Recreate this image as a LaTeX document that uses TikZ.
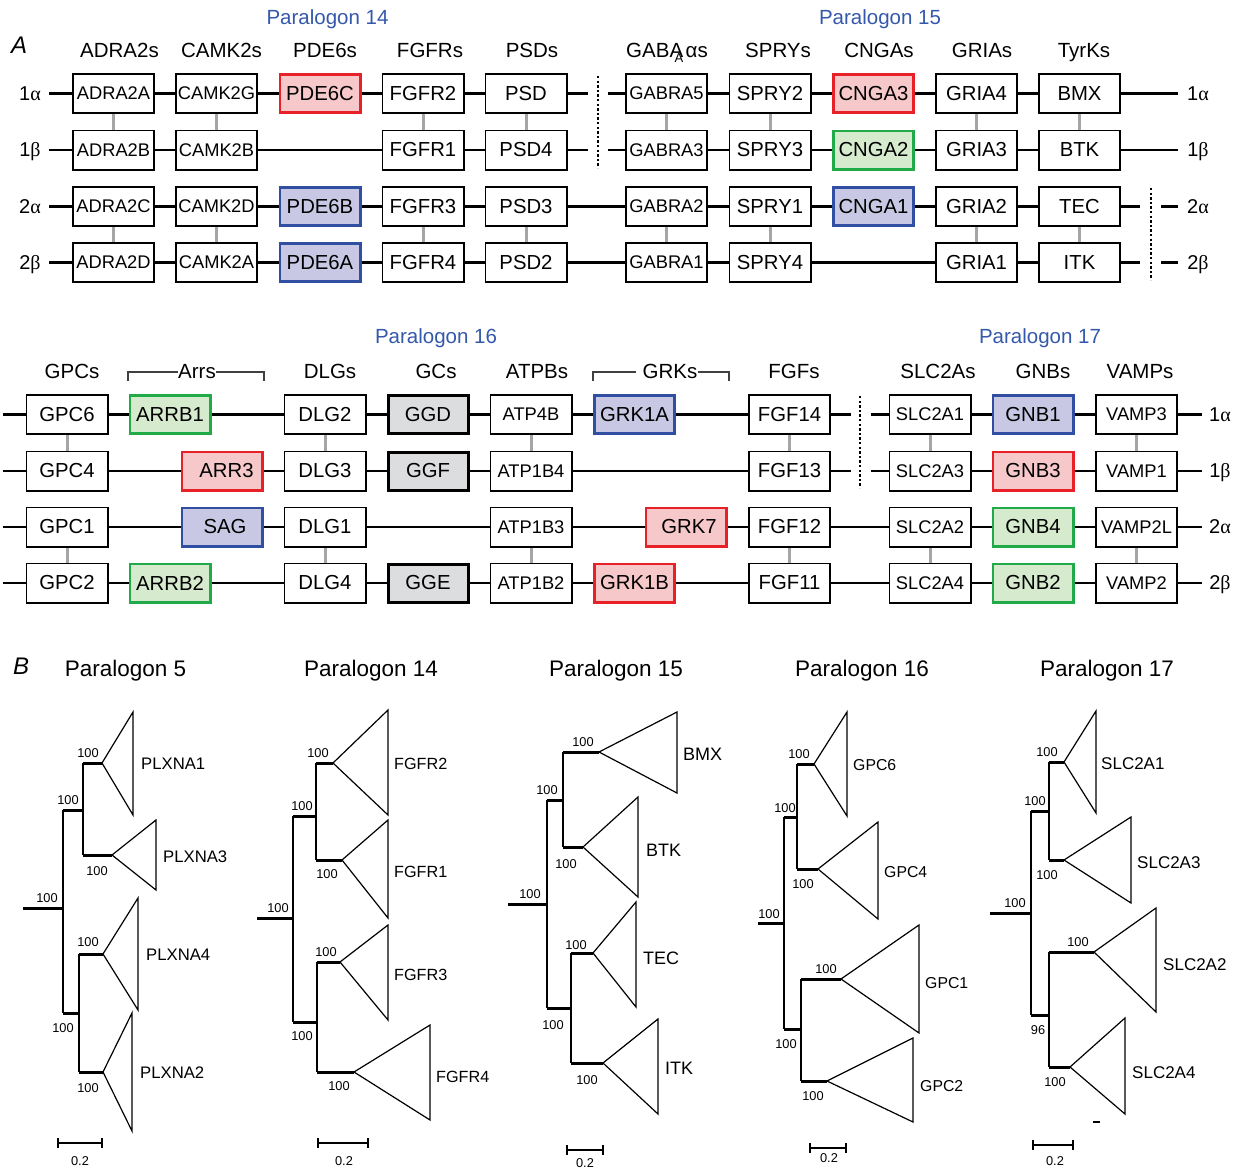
\documentclass[tikz,border=0pt]{standalone}
\usepackage{fontspec}
\setmainfont{Liberation Sans}
\newfontfamily\greekf{Liberation Serif}

\definecolor{cRed}{RGB}{232,32,40}
\definecolor{cRedF}{RGB}{246,200,202}
\definecolor{cBlue}{RGB}{48,78,162}
\definecolor{cBlueF}{RGB}{200,200,228}
\definecolor{cGreen}{RGB}{32,170,72}
\definecolor{cGreenF}{RGB}{214,234,206}
\definecolor{cGrayF}{RGB}{220,221,223}
\definecolor{cPair}{RGB}{165,165,168}
\definecolor{cTitle}{RGB}{52,88,170}

\newcommand\fsz[1]{\fontsize{#1}{#1}\selectfont}
% collapsed clade: apex x, apex y, base x, base top y, base bottom y
\newcommand\cladetri[5]{\draw[clade] (#1,#2) -- (#3,#4) -- (#3,#5) -- cycle;}

\begin{document}
\begin{tikzpicture}[x=1pt,y=-1pt,
  gene/.style={draw, line width=1.6pt, fill=white, minimum width=81.4pt,
    minimum height=39.4pt, inner sep=0pt, font=\fsz{20.3}},
  gnar/.style={gene, font=\fsz{18.3}},
  hlred/.style={gene, draw=cRed, fill=cRedF, line width=2.8pt,
    minimum width=80.2pt, minimum height=38.2pt},
  hlblue/.style={gene, draw=cBlue, fill=cBlueF, line width=2.8pt,
    minimum width=80.2pt, minimum height=38.2pt},
  hlgreen/.style={gene, draw=cGreen, fill=cGreenF, line width=2.8pt,
    minimum width=80.2pt, minimum height=38.2pt},
  gcbox/.style={gene, fill=cGrayF, line width=3pt,
    minimum width=80pt, minimum height=38pt},
  link/.style={line width=2.4pt},
  pair/.style={draw=cPair, line width=3pt},
  dots/.style={line width=2.6pt, dash pattern=on 2.3pt off 2.3pt},
  head/.style={font=\fsz{20.5}, anchor=base, inner sep=0pt},
  ptitle/.style={head, text=cTitle},
  rowlab/.style={font=\fsz{20}, anchor=base, inner sep=0pt},
  brk/.style={line width=1.1pt, draw=black!75},
  br/.style={line width=3pt},
  stem/.style={line width=1.2pt},
  clade/.style={line width=1.2pt, line join=miter},
  boot/.style={font=\fsz{12.8}, inner sep=0pt},
  taxon/.style={font=\fsz{#1}, anchor=west, inner sep=0pt},
  taxon/.default=16.7,
  btitle/.style={font=\fsz{22.5}, anchor=base, inner sep=0pt},
  plabel/.style={font=\fsz{24}\itshape, anchor=base west, inner sep=0pt},
  sbar/.style={line width=1.1pt}
]
\useasboundingbox (0,0) rectangle (1240,1170);

%% ---------------- Panel A, upper block (paralogons 14 and 15) ----------------
\node[plabel] (labA) at (11,53) {A};
\node[ptitle] (p14) at (327.5,24) {Paralogon 14};
\node[ptitle] (p15) at (880,24) {Paralogon 15};

\node[head] (hADRA) at (119.5,57) {ADRA2s};
\node[head] (hCAMK) at (221.5,57) {CAMK2s};
\node[head] (hPDE)  at (325,57) {PDE6s};
\node[head] (hFGFR) at (430,57) {FGFRs};
\node[head] (hPSD)  at (532,57) {PSDs};
\node[head] (hGABA) at (667,57) {GABA\kern-0.42em\raisebox{-0.28em}{\fsz{13}A}\kern0.12em αs};
\node[head] (hSPRY) at (778,57) {SPRYs};
\node[head] (hCNGA) at (879,57) {CNGAs};
\node[head] (hGRIA) at (982,57) {GRIAs};
\node[head] (hTyrK) at (1084,57) {TyrKs};

% row labels
\node[rowlab] (la1) at (30,100) {1{\greekf α}};
\node[rowlab] (lb1) at (30,156.5) {1{\greekf β}};
\node[rowlab] (la2) at (30,213) {2{\greekf α}};
\node[rowlab] (lb2) at (30,269) {2{\greekf β}};
\node[rowlab] (ra1) at (1198,100) {1{\greekf α}};
\node[rowlab] (rb1) at (1198,156.5) {1{\greekf β}};
\node[rowlab] (ra2) at (1198,213) {2{\greekf α}};
\node[rowlab] (rb2) at (1198,269) {2{\greekf β}};

% genes, row 1 alpha
\node[gnar]   (ADRA2A) at (113.5,93.5) {ADRA2A};
\node[gnar]   (CAMK2G) at (216.5,93.5) {CAMK2G};
\node[hlred]  (PDE6C)  at (320,93.5) {PDE6C};
\node[gene]   (FGFR2)  at (423,93.5) {FGFR2};
\node[gene]   (PSD)    at (526,93.5) {PSD};
\node[gnar]   (GABRA5) at (666.5,93.5) {GABRA5};
\node[gene]   (SPRY2)  at (770,93.5) {SPRY2};
\node[hlred]  (CNGA3)  at (873.5,93.5) {CNGA3};
\node[gene]   (GRIA4)  at (976.5,93.5) {GRIA4};
\node[gene]   (BMX)    at (1079.5,93.5) {BMX};
% row 1 beta
\node[gnar]   (ADRA2B) at (113.5,150) {ADRA2B};
\node[gnar]   (CAMK2B) at (216.5,150) {CAMK2B};
\node[gene]   (FGFR1)  at (423,150) {FGFR1};
\node[gene]   (PSD4)   at (526,150) {PSD4};
\node[gnar]   (GABRA3) at (666.5,150) {GABRA3};
\node[gene]   (SPRY3)  at (770,150) {SPRY3};
\node[hlgreen](CNGA2)  at (873.5,150) {CNGA2};
\node[gene]   (GRIA3)  at (976.5,150) {GRIA3};
\node[gene]   (BTK)    at (1079.5,150) {BTK};
% row 2 alpha
\node[gnar]   (ADRA2C) at (113.5,206.5) {ADRA2C};
\node[gnar]   (CAMK2D) at (216.5,206.5) {CAMK2D};
\node[hlblue] (PDE6B)  at (320,206.5) {PDE6B};
\node[gene]   (FGFR3)  at (423,206.5) {FGFR3};
\node[gene]   (PSD3)   at (526,206.5) {PSD3};
\node[gnar]   (GABRA2) at (666.5,206.5) {GABRA2};
\node[gene]   (SPRY1)  at (770,206.5) {SPRY1};
\node[hlblue] (CNGA1)  at (873.5,206.5) {CNGA1};
\node[gene]   (GRIA2)  at (976.5,206.5) {GRIA2};
\node[gene]   (TEC)    at (1079.5,206.5) {TEC};
% row 2 beta
\node[gnar]   (ADRA2D) at (113.5,262.5) {ADRA2D};
\node[gnar]   (CAMK2A) at (216.5,262.5) {CAMK2A};
\node[hlblue] (PDE6A)  at (320,262.5) {PDE6A};
\node[gene]   (FGFR4)  at (423,262.5) {FGFR4};
\node[gene]   (PSD2)   at (526,262.5) {PSD2};
\node[gnar]   (GABRA1) at (666.5,262.5) {GABRA1};
\node[gene]   (SPRY4)  at (770,262.5) {SPRY4};
\node[gene]   (GRIA1)  at (976.5,262.5) {GRIA1};
\node[gene]   (ITK)    at (1079.5,262.5) {ITK};

% free ends of the chromosome lines
\coordinate (t1L) at (49,93.5);   \coordinate (t1R) at (1178,93.5);
\coordinate (t2L) at (49,150);    \coordinate (t2R) at (1178,150);
\coordinate (t3L) at (49,206.5);  \coordinate (t3R) at (1178,206.5);
\coordinate (t4L) at (49,262.5);  \coordinate (t4R) at (1178,262.5);
\coordinate (t1a) at (588,93.5);  \coordinate (t1b) at (608,93.5);
\coordinate (t2a) at (588,150);   \coordinate (t2b) at (608,150);
\coordinate (t3a) at (1140,206.5);\coordinate (t3b) at (1161,206.5);
\coordinate (t4a) at (1140,262.5);\coordinate (t4b) at (1161,262.5);
\coordinate (dA1) at (598,76);    \coordinate (dA2) at (598,168);
\coordinate (dB1) at (1151,188);  \coordinate (dB2) at (1151,280);

\draw[link] (t1L) -- (ADRA2A); \draw[link] (ADRA2A) -- (CAMK2G);
\draw[link] (CAMK2G) -- (PDE6C); \draw[link] (PDE6C) -- (FGFR2);
\draw[link] (FGFR2) -- (PSD); \draw[link] (PSD) -- (t1a);
\draw[link] (t1b) -- (GABRA5); \draw[link] (GABRA5) -- (SPRY2);
\draw[link] (SPRY2) -- (CNGA3); \draw[link] (CNGA3) -- (GRIA4);
\draw[link] (GRIA4) -- (BMX); \draw[link] (BMX) -- (t1R);

\draw[link] (t2L) -- (ADRA2B); \draw[link] (ADRA2B) -- (CAMK2B);
\draw[link] (CAMK2B) -- (FGFR1); \draw[link] (FGFR1) -- (PSD4);
\draw[link] (PSD4) -- (t2a); \draw[link] (t2b) -- (GABRA3);
\draw[link] (GABRA3) -- (SPRY3); \draw[link] (SPRY3) -- (CNGA2);
\draw[link] (CNGA2) -- (GRIA3); \draw[link] (GRIA3) -- (BTK);
\draw[link] (BTK) -- (t2R);

\draw[link] (t3L) -- (ADRA2C); \draw[link] (ADRA2C) -- (CAMK2D);
\draw[link] (CAMK2D) -- (PDE6B); \draw[link] (PDE6B) -- (FGFR3);
\draw[link] (FGFR3) -- (PSD3); \draw[link] (PSD3) -- (GABRA2);
\draw[link] (GABRA2) -- (SPRY1); \draw[link] (SPRY1) -- (CNGA1);
\draw[link] (CNGA1) -- (GRIA2); \draw[link] (GRIA2) -- (TEC);
\draw[link] (TEC) -- (t3a); \draw[link] (t3b) -- (t3R);

\draw[link] (t4L) -- (ADRA2D); \draw[link] (ADRA2D) -- (CAMK2A);
\draw[link] (CAMK2A) -- (PDE6A); \draw[link] (PDE6A) -- (FGFR4);
\draw[link] (FGFR4) -- (PSD2); \draw[link] (PSD2) -- (GABRA1);
\draw[link] (GABRA1) -- (SPRY4); \draw[link] (SPRY4) -- (GRIA1);
\draw[link] (GRIA1) -- (ITK); \draw[link] (ITK) -- (t4a);
\draw[link] (t4b) -- (t4R);

% paralog pairs
\foreach \a/\b in {ADRA2A/ADRA2B, ADRA2C/ADRA2D, CAMK2G/CAMK2B, CAMK2D/CAMK2A,
  FGFR2/FGFR1, FGFR3/FGFR4, PSD/PSD4, PSD3/PSD2, GABRA5/GABRA3, GABRA2/GABRA1,
  SPRY2/SPRY3, SPRY1/SPRY4, GRIA4/GRIA3, GRIA2/GRIA1, BMX/BTK, TEC/ITK}
  \draw[pair] (\a) -- (\b);

\draw[dots] (dA1) -- (dA2);
\draw[dots] (dB1) -- (dB2);

%% ---------------- Panel A, lower block (paralogons 16 and 17) ----------------
\node[ptitle] (p16) at (436,343) {Paralogon 16};
\node[ptitle] (p17) at (1040,343) {Paralogon 17};

\node[head] (hGPC)  at (72,378) {GPCs};
\node[head] (hArr)  at (197,378) {Arrs};
\node[head] (hDLG)  at (330,378) {DLGs};
\node[head] (hGC)   at (436,378) {GCs};
\node[head] (hATPB) at (537,378) {ATPBs};
\node[head] (hGRK)  at (670,378) {GRKs};
\node[head] (hFGF)  at (794,378) {FGFs};
\node[head] (hSLC)  at (938,378) {SLC2As};
\node[head] (hGNB)  at (1043,378) {GNBs};
\node[head] (hVAMP) at (1140,378) {VAMPs};

\coordinate (arrL) at (128,381); \coordinate (arrR) at (264,381);
\coordinate (grkL) at (593,381); \coordinate (grkR) at (729,381);
\draw[brk] (arrL) -- (128,372) -- (hArr.west |- 0,372);
\draw[brk] (hArr.east |- 0,372) -- (264,372) -- (arrR);
\draw[brk] (grkL) -- (593,372) -- ([xshift=-6pt]hGRK.west |- 0,372);
\draw[brk] (hGRK.east |- 0,372) -- (729,372) -- (grkR);

\node[rowlab] (ra3) at (1220,421) {1{\greekf α}};
\node[rowlab] (rb3) at (1220,477.5) {1{\greekf β}};
\node[rowlab] (ra4) at (1220,533.5) {2{\greekf α}};
\node[rowlab] (rb4) at (1220,589.5) {2{\greekf β}};

% row 1 alpha
\node[gene]   (GPC6)   at (67,414.5) {GPC6};
\node[hlgreen](ARRB1)  at (170,414.5) {ARRB1};
\node[gene]   (DLG2)   at (325,414.5) {DLG2};
\node[gcbox]  (GGD)    at (428,414.5) {GGD};
\node[gnar]   (ATP4B)  at (531,414.5) {ATP4B};
\node[hlblue] (GRK1A)  at (634.5,414.5) {GRK1A};
\node[gene]   (FGF14)  at (789.5,414.5) {FGF14};
\node[gnar]   (SLC2A1) at (930,414.5) {SLC2A1};
\node[hlblue] (GNB1)   at (1033,414.5) {GNB1};
\node[gnar]   (VAMP3)  at (1136.5,414.5) {VAMP3};
% row 1 beta
\node[gene]   (GPC4)   at (67,471) {GPC4};
\node[hlred]  (ARR3)   at (222,471) {\hspace{9pt}ARR3};
\node[gene]   (DLG3)   at (325,471) {DLG3};
\node[gcbox]  (GGF)    at (428,471) {GGF};
\node[gnar]   (ATP1B4) at (531,471) {ATP1B4};
\node[gene]   (FGF13)  at (789.5,471) {FGF13};
\node[gnar]   (SLC2A3) at (930,471) {SLC2A3};
\node[hlred]  (GNB3)   at (1033,471) {GNB3};
\node[gnar]   (VAMP1)  at (1136.5,471) {VAMP1};
% row 2 alpha
\node[gene]   (GPC1)   at (67,527) {GPC1};
\node[hlblue] (SAG)    at (222,527) {\hspace{6pt}SAG};
\node[gene]   (DLG1)   at (325,527) {DLG1};
\node[gnar]   (ATP1B3) at (531,527) {ATP1B3};
\node[hlred]  (GRK7)   at (686,527) {\hspace{6pt}GRK7};
\node[gene]   (FGF12)  at (789.5,527) {FGF12};
\node[gnar]   (SLC2A2) at (930,527) {SLC2A2};
\node[hlgreen](GNB4)   at (1033,527) {GNB4};
\node[gnar]   (VAMP2L) at (1136.5,527) {VAMP2L};
% row 2 beta
\node[gene]   (GPC2)   at (67,583) {GPC2};
\node[hlgreen](ARRB2)  at (170,583) {ARRB2};
\node[gene]   (DLG4)   at (325,583) {DLG4};
\node[gcbox]  (GGE)    at (428,583) {GGE};
\node[gnar]   (ATP1B2) at (531,583) {ATP1B2};
\node[hlred]  (GRK1B)  at (634.5,583) {GRK1B};
\node[gene]   (FGF11)  at (789.5,583) {FGF11};
\node[gnar]   (SLC2A4) at (930,583) {SLC2A4};
\node[hlgreen](GNB2)   at (1033,583) {GNB2};
\node[gnar]   (VAMP2)  at (1136.5,583) {VAMP2};

\coordinate (b1L) at (3,414.5); \coordinate (b1R) at (1202,414.5);
\coordinate (b2L) at (3,471);   \coordinate (b2R) at (1202,471);
\coordinate (b3L) at (3,527);   \coordinate (b3R) at (1202,527);
\coordinate (b4L) at (3,583);   \coordinate (b4R) at (1202,583);
\coordinate (b1a) at (851,414.5); \coordinate (b1b) at (871,414.5);
\coordinate (b2a) at (851,471);   \coordinate (b2b) at (871,471);
\coordinate (dC1) at (860,396);   \coordinate (dC2) at (860,488);

\draw[link] (b1L) -- (GPC6); \draw[link] (GPC6) -- (ARRB1);
\draw[link] (ARRB1) -- (DLG2); \draw[link] (DLG2) -- (GGD);
\draw[link] (GGD) -- (ATP4B); \draw[link] (ATP4B) -- (GRK1A);
\draw[link] (GRK1A) -- (FGF14); \draw[link] (FGF14) -- (b1a);
\draw[link] (b1b) -- (SLC2A1); \draw[link] (SLC2A1) -- (GNB1);
\draw[link] (GNB1) -- (VAMP3); \draw[link] (VAMP3) -- (b1R);

\draw[link] (b2L) -- (GPC4); \draw[link] (GPC4) -- (ARR3);
\draw[link] (ARR3) -- (DLG3); \draw[link] (DLG3) -- (GGF);
\draw[link] (GGF) -- (ATP1B4); \draw[link] (ATP1B4) -- (FGF13);
\draw[link] (FGF13) -- (b2a); \draw[link] (b2b) -- (SLC2A3);
\draw[link] (SLC2A3) -- (GNB3); \draw[link] (GNB3) -- (VAMP1);
\draw[link] (VAMP1) -- (b2R);

\draw[link] (b3L) -- (GPC1); \draw[link] (GPC1) -- (SAG);
\draw[link] (SAG) -- (DLG1); \draw[link] (DLG1) -- (ATP1B3);
\draw[link] (ATP1B3) -- (GRK7); \draw[link] (GRK7) -- (FGF12);
\draw[link] (FGF12) -- (SLC2A2); \draw[link] (SLC2A2) -- (GNB4);
\draw[link] (GNB4) -- (VAMP2L); \draw[link] (VAMP2L) -- (b3R);

\draw[link] (b4L) -- (GPC2); \draw[link] (GPC2) -- (ARRB2);
\draw[link] (ARRB2) -- (DLG4); \draw[link] (DLG4) -- (GGE);
\draw[link] (GGE) -- (ATP1B2); \draw[link] (ATP1B2) -- (GRK1B);
\draw[link] (GRK1B) -- (FGF11); \draw[link] (FGF11) -- (SLC2A4);
\draw[link] (SLC2A4) -- (GNB2); \draw[link] (GNB2) -- (VAMP2);
\draw[link] (VAMP2) -- (b4R);

\foreach \a/\b in {GPC6/GPC4, GPC1/GPC2, DLG2/DLG3, DLG1/DLG4,
  ATP4B/ATP1B4, ATP1B3/ATP1B2, FGF14/FGF13, FGF12/FGF11,
  SLC2A1/SLC2A3, SLC2A2/SLC2A4, VAMP3/VAMP1, VAMP2L/VAMP2}
  \draw[pair] (\a) -- (\b);

\draw[dots] (dC1) -- (dC2);

%% ---------------- Panel B: collapsed phylogenies ----------------
\node[plabel] (labB) at (13,674) {B};
\node[btitle] (bt5)  at (125.5,676) {Paralogon 5};
\node[btitle] (bt14) at (371,676) {Paralogon 14};
\node[btitle] (bt15) at (616,676) {Paralogon 15};
\node[btitle] (bt16) at (862,676) {Paralogon 16};
\node[btitle] (bt17) at (1107,676) {Paralogon 17};

% tree: paralogon 5
\draw[stem] (63,810) -- (63,1013);
\draw[stem] (83,763) -- (83,855);
\draw[stem] (79,954) -- (79,1072);
\draw[br] (23,908) -- (63,908);
\draw[br] (63,810) -- (83,810);
\draw[br] (83,763) -- (102,763);
\draw[br] (83,855) -- (112,855);
\draw[br] (63,1013) -- (79,1013);
\draw[br] (79,954) -- (103,954);
\draw[br] (79,1072) -- (103,1072);
\cladetri{102}{763}{133}{712}{815}
\cladetri{112}{855}{156}{820}{890}
\cladetri{103}{954}{138}{898}{1010}
\cladetri{103}{1072}{132}{1013}{1131}
\node[boot] (s5a) at (47,898) {100};
\node[boot] (s5b) at (68,800) {100};
\node[boot] (s5c) at (88,753) {100};
\node[boot] (s5d) at (97,871) {100};
\node[boot] (s5e) at (63,1028) {100};
\node[boot] (s5f) at (88,942) {100};
\node[boot] (s5g) at (88,1088) {100};
\node[taxon] (x5a) at (141,764) {PLXNA1};
\node[taxon] (x5b) at (163,857) {PLXNA3};
\node[taxon] (x5c) at (146,955) {PLXNA4};
\node[taxon] (x5d) at (140,1073) {PLXNA2};
\draw[sbar] (58,1138) -- (58,1148) (58,1143) -- (102,1143) (102,1138) -- (102,1148);
\node[boot] (k5) at (80,1161) {0.2};

% tree: paralogon 14
\draw[stem] (293,816) -- (293,1022);
\draw[stem] (316,763) -- (316,860);
\draw[stem] (317,962) -- (317,1072);
\draw[br] (257,918) -- (293,918);
\draw[br] (293,816) -- (316,816);
\draw[br] (316,763) -- (333,763);
\draw[br] (316,860) -- (342,860);
\draw[br] (293,1022) -- (317,1022);
\draw[br] (317,962) -- (340,962);
\draw[br] (317,1072) -- (354,1072);
\cladetri{333}{763}{388}{710}{815}
\cladetri{342}{860}{388}{820}{918}
\cladetri{340}{962}{388}{925}{1020}
\cladetri{354}{1072}{430}{1025}{1120}
\node[boot] (s14a) at (278,908) {100};
\node[boot] (s14b) at (302,806) {100};
\node[boot] (s14c) at (318,753) {100};
\node[boot] (s14d) at (327,874) {100};
\node[boot] (s14e) at (302,1036) {100};
\node[boot] (s14f) at (326,952) {100};
\node[boot] (s14g) at (339,1086) {100};
\node[taxon=16.2] (x14a) at (394,764) {FGFR2};
\node[taxon=16.2] (x14b) at (394,872) {FGFR1};
\node[taxon=16.2] (x14c) at (394,975) {FGFR3};
\node[taxon=16.2] (x14d) at (436,1077) {FGFR4};
\draw[sbar] (318,1138) -- (318,1148) (318,1143) -- (368,1143) (368,1138) -- (368,1148);
\node[boot] (k14) at (344,1161) {0.2};

% tree: paralogon 15
\draw[stem] (547,800) -- (547,1008);
\draw[stem] (563,752) -- (563,847);
\draw[stem] (571,953) -- (571,1063);
\draw[br] (508,904) -- (547,904);
\draw[br] (547,800) -- (563,800);
\draw[br] (563,752) -- (599,752);
\draw[br] (563,847) -- (583,847);
\draw[br] (547,1008) -- (571,1008);
\draw[br] (571,953) -- (593,953);
\draw[br] (571,1063) -- (603,1063);
\cladetri{599}{752}{677}{712}{793}
\cladetri{583}{847}{638}{797}{897}
\cladetri{593}{953}{636}{902}{1007}
\cladetri{603}{1063}{658}{1019}{1114}
\node[boot] (s15a) at (530,894) {100};
\node[boot] (s15b) at (547,790) {100};
\node[boot] (s15c) at (583,742) {100};
\node[boot] (s15d) at (566,864) {100};
\node[boot] (s15e) at (553,1025) {100};
\node[boot] (s15f) at (576,945) {100};
\node[boot] (s15g) at (587,1080) {100};
\node[taxon=18] (x15a) at (683,754) {BMX};
\node[taxon=18] (x15b) at (646,850) {BTK};
\node[taxon=18] (x15c) at (643,958) {TEC};
\node[taxon=18] (x15d) at (665,1068) {ITK};
\draw[sbar] (567,1145) -- (567,1155) (567,1150) -- (603,1150) (603,1145) -- (603,1155);
\node[boot] (k15) at (585,1163) {0.2};

% tree: paralogon 16
\draw[stem] (784,817) -- (784,1029);
\draw[stem] (797,764) -- (797,869);
\draw[stem] (801,979) -- (801,1081);
\draw[br] (758,923) -- (784,923);
\draw[br] (784,817) -- (797,817);
\draw[br] (797,764) -- (814,764);
\draw[br] (797,869) -- (818,869);
\draw[br] (784,1029) -- (801,1029);
\draw[br] (801,979) -- (841,979);
\draw[br] (801,1081) -- (827,1081);
\cladetri{814}{764}{847}{712}{816}
\cladetri{818}{869}{878}{822}{919}
\cladetri{841}{979}{919}{925}{1033}
\cladetri{827}{1081}{913}{1038}{1122}
\node[boot] (s16a) at (769,914) {100};
\node[boot] (s16b) at (785,808) {100};
\node[boot] (s16c) at (799,754) {100};
\node[boot] (s16d) at (803,884) {100};
\node[boot] (s16e) at (786,1044) {100};
\node[boot] (s16f) at (826,969) {100};
\node[boot] (s16g) at (813,1096) {100};
\node[taxon=15.8] (x16a) at (853,765) {GPC6};
\node[taxon=15.8] (x16b) at (884,872) {GPC4};
\node[taxon=15.8] (x16c) at (925,983) {GPC1};
\node[taxon=15.8] (x16d) at (920,1086) {GPC2};
\draw[sbar] (810,1143) -- (810,1153) (810,1148) -- (846,1148) (846,1143) -- (846,1153);
\node[boot] (k16) at (829,1158) {0.2};

% tree: paralogon 17
\draw[stem] (1031,811) -- (1031,1015);
\draw[stem] (1049,762) -- (1049,860);
\draw[stem] (1049,952) -- (1049,1067);
\draw[br] (990,913) -- (1031,913);
\draw[br] (1031,811) -- (1049,811);
\draw[br] (1049,762) -- (1064,762);
\draw[br] (1049,860) -- (1064,860);
\draw[br] (1031,1015) -- (1049,1015);
\draw[br] (1049,952) -- (1094,952);
\draw[br] (1049,1067) -- (1070,1067);
\cladetri{1064}{762}{1096}{711}{813}
\cladetri{1064}{860}{1131}{817}{903}
\cladetri{1094}{952}{1156}{908}{1012}
\cladetri{1070}{1067}{1125}{1018}{1114}
\draw[line width=1.2pt] (1093,1122) -- (1100,1122);
\node[boot] (s17a) at (1015,903) {100};
\node[boot] (s17b) at (1035,801) {100};
\node[boot] (s17c) at (1047,752) {100};
\node[boot] (s17d) at (1047,875) {100};
\node[boot] (s17e) at (1038,1030) {96};
\node[boot] (s17f) at (1078,942) {100};
\node[boot] (s17g) at (1055,1082) {100};
\node[taxon=17] (x17a) at (1101,764) {SLC2A1};
\node[taxon=17] (x17b) at (1137,863) {SLC2A3};
\node[taxon=17] (x17c) at (1163,965) {SLC2A2};
\node[taxon=17] (x17d) at (1132,1073) {SLC2A4};
\draw[sbar] (1033,1140) -- (1033,1150) (1033,1145) -- (1073,1145) (1073,1140) -- (1073,1150);
\node[boot] (k17) at (1055,1161) {0.2};
\end{tikzpicture}
\end{document}
